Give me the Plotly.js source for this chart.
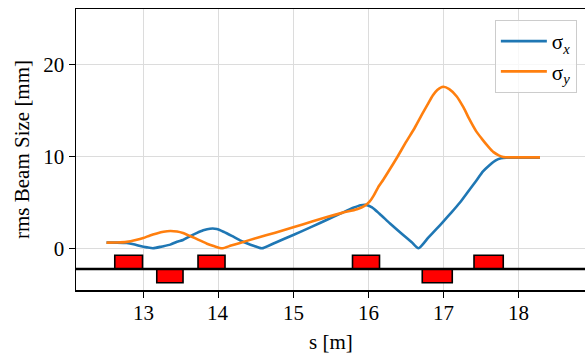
<!DOCTYPE html>
<html>
<head>
<meta charset="utf-8">
<script src="https://cdn.plot.ly/plotly-3.0.1.min.js"></script>
<style>html,body{margin:0;padding:0;background:#fff;}#chart{width:585px;height:353px;}</style>
</head>
<body>
<div id="chart"></div>
<script>
// sigma_x (blue)
const sX = [12.51, 12.65, 12.78, 12.87, 12.96, 13.05, 13.13, 13.25, 13.36, 13.45, 13.53, 13.62, 13.71, 13.80, 13.89, 13.98, 14.07, 14.18, 14.29, 14.38, 14.48, 14.58, 14.76, 15.0, 15.25, 15.45, 15.65, 15.80, 15.90, 15.97, 16.05, 16.15, 16.29, 16.45, 16.58, 16.67, 16.80, 16.91, 17.0, 17.11, 17.22, 17.33, 17.44, 17.53, 17.62, 17.70, 17.77, 17.84, 18.0, 18.29];
const sigmaX = [0.62, 0.62, 0.58, 0.45, 0.25, 0.1, 0.0, 0.2, 0.4, 0.72, 0.9, 1.3, 1.65, 1.95, 2.13, 2.1, 1.8, 1.35, 0.87, 0.55, 0.25, 0.0, 0.61, 1.45, 2.35, 3.1, 3.85, 4.4, 4.68, 4.72, 4.45, 3.75, 2.7, 1.55, 0.65, 0.0, 1.15, 2.1, 2.9, 3.9, 4.95, 6.15, 7.35, 8.35, 9.05, 9.55, 9.78, 9.85, 9.85, 9.85];
// sigma_y (orange)
const sY = [12.51, 12.65, 12.78, 12.9, 13.0, 13.09, 13.18, 13.27, 13.36, 13.45, 13.53, 13.62, 13.69, 13.77, 13.85, 13.95, 14.05, 14.17, 14.29, 14.51, 14.76, 15.0, 15.25, 15.45, 15.65, 15.85, 15.95, 16.02, 16.07, 16.13, 16.2, 16.3, 16.39, 16.5, 16.62, 16.72, 16.79, 16.86, 16.92, 17.0, 17.08, 17.18, 17.27, 17.35, 17.44, 17.51, 17.6, 17.67, 17.74, 17.8, 17.9, 18.0, 18.29];
const sigmaY = [0.62, 0.63, 0.7, 0.9, 1.12, 1.4, 1.62, 1.8, 1.88, 1.82, 1.66, 1.35, 1.1, 0.8, 0.5, 0.22, 0.0, 0.3, 0.59, 1.12, 1.7, 2.3, 2.9, 3.4, 3.85, 4.25, 4.6, 5.1, 5.7, 6.6, 7.45, 8.75, 9.95, 11.5, 13.1, 14.6, 15.6, 16.6, 17.2, 17.55, 17.3, 16.5, 15.3, 14.0, 12.7, 11.95, 11.05, 10.45, 10.1, 9.93, 9.88, 9.88, 9.88];
// quadrupoles
const quadStart = [12.62, 13.18, 13.73, 15.79, 16.72, 17.41];
const quadEnd   = [12.99, 13.53, 14.09, 16.15, 17.12, 17.80];
const quadSign  = [1, -1, 1, 1, -1, 1];
const beamline = -2.25;
const quadHeight = 1.5;
const xTicks = [13, 14, 15, 16, 17, 18];
const yTicks = [0, 10, 20];

const font = "'Liberation Serif', 'Times New Roman', serif";

const traces = [
  {
    type: 'bar',
    x: quadStart.map((a, i) => (a + quadEnd[i]) / 2),
    width: quadStart.map((a, i) => quadEnd[i] - a),
    base: quadStart.map(() => beamline),
    y: quadSign.map(s => s * quadHeight),
    marker: {color: '#ff0000', line: {color: '#000000', width: 1.6}},
    showlegend: false, hoverinfo: 'skip'
  },
  {
    type: 'scatter', mode: 'lines', x: sX, y: sigmaX,
    name: 'σ<sub><i>x</i></sub>',
    line: {color: '#1f77b4', width: 2.6, shape: 'spline', smoothing: 0.6}
  },
  {
    type: 'scatter', mode: 'lines', x: sY, y: sigmaY,
    name: 'σ<sub><i>y</i></sub>',
    line: {color: '#ff7f0e', width: 2.6, shape: 'spline', smoothing: 0.6}
  }
];

const xTickAnnotations = xTicks.map(v => ({
  text: String(v), xref: 'x', yref: 'paper', x: v, y: -0.081,
  xanchor: 'center', yanchor: 'middle', showarrow: false,
  font: {family: font, size: 21, color: '#000'}
}));

const layout = {
  width: 585, height: 353,
  margin: {l: 76, r: 0, t: 9, b: 63, pad: 0},
  paper_bgcolor: '#ffffff', plot_bgcolor: '#ffffff',
  font: {family: font, size: 21, color: '#000'},
  barmode: 'overlay',
  showlegend: true,
  legend: {
    x: 0.984, y: 0.961, xanchor: 'right', yanchor: 'top',
    bgcolor: 'rgba(255,255,255,0.8)', bordercolor: '#cccccc', borderwidth: 1,
    itemwidth: 46, tracegroupgap: 0,
    font: {family: font, size: 21}
  },
  xaxis: {
    range: [12.103, 18.89], tickvals: xTicks, showticklabels: false,
    ticks: 'outside', ticklen: 6, tickwidth: 1.3, tickcolor: '#000',
    showline: true, linecolor: '#000', linewidth: 1.5, mirror: true,
    showgrid: true, gridcolor: '#dcdcdc', gridwidth: 1, zeroline: false
  },
  yaxis: {
    range: [-4.53, 26.0], tickvals: yTicks, ticktext: yTicks.map(String),
    ticks: 'outside', ticklen: 6, tickwidth: 1.3, tickcolor: '#000',
    showline: true, linecolor: '#000', linewidth: 1.5,
    showgrid: true, gridcolor: '#dcdcdc', gridwidth: 1, zeroline: false,
    tickfont: {family: font, size: 21},
    title: {text: 'rms Beam Size [mm]', font: {family: font, size: 21}, standoff: 8}
  },
  annotations: xTickAnnotations.concat([
    {text: 's [m]', xref: 'paper', yref: 'paper', x: 0.5, y: -0.185,
     xanchor: 'center', yanchor: 'middle', showarrow: false,
     font: {family: font, size: 21, color: '#000'}}
  ]),
  shapes: [
    {type: 'line', xref: 'paper', x0: 0, x1: 1, yref: 'y', y0: beamline, y1: beamline,
     line: {color: '#000', width: 2.6}, layer: 'above'}
  ]
};

Plotly.newPlot('chart', traces, layout, {displayModeBar: false, staticPlot: true});
</script>
</body>
</html>
